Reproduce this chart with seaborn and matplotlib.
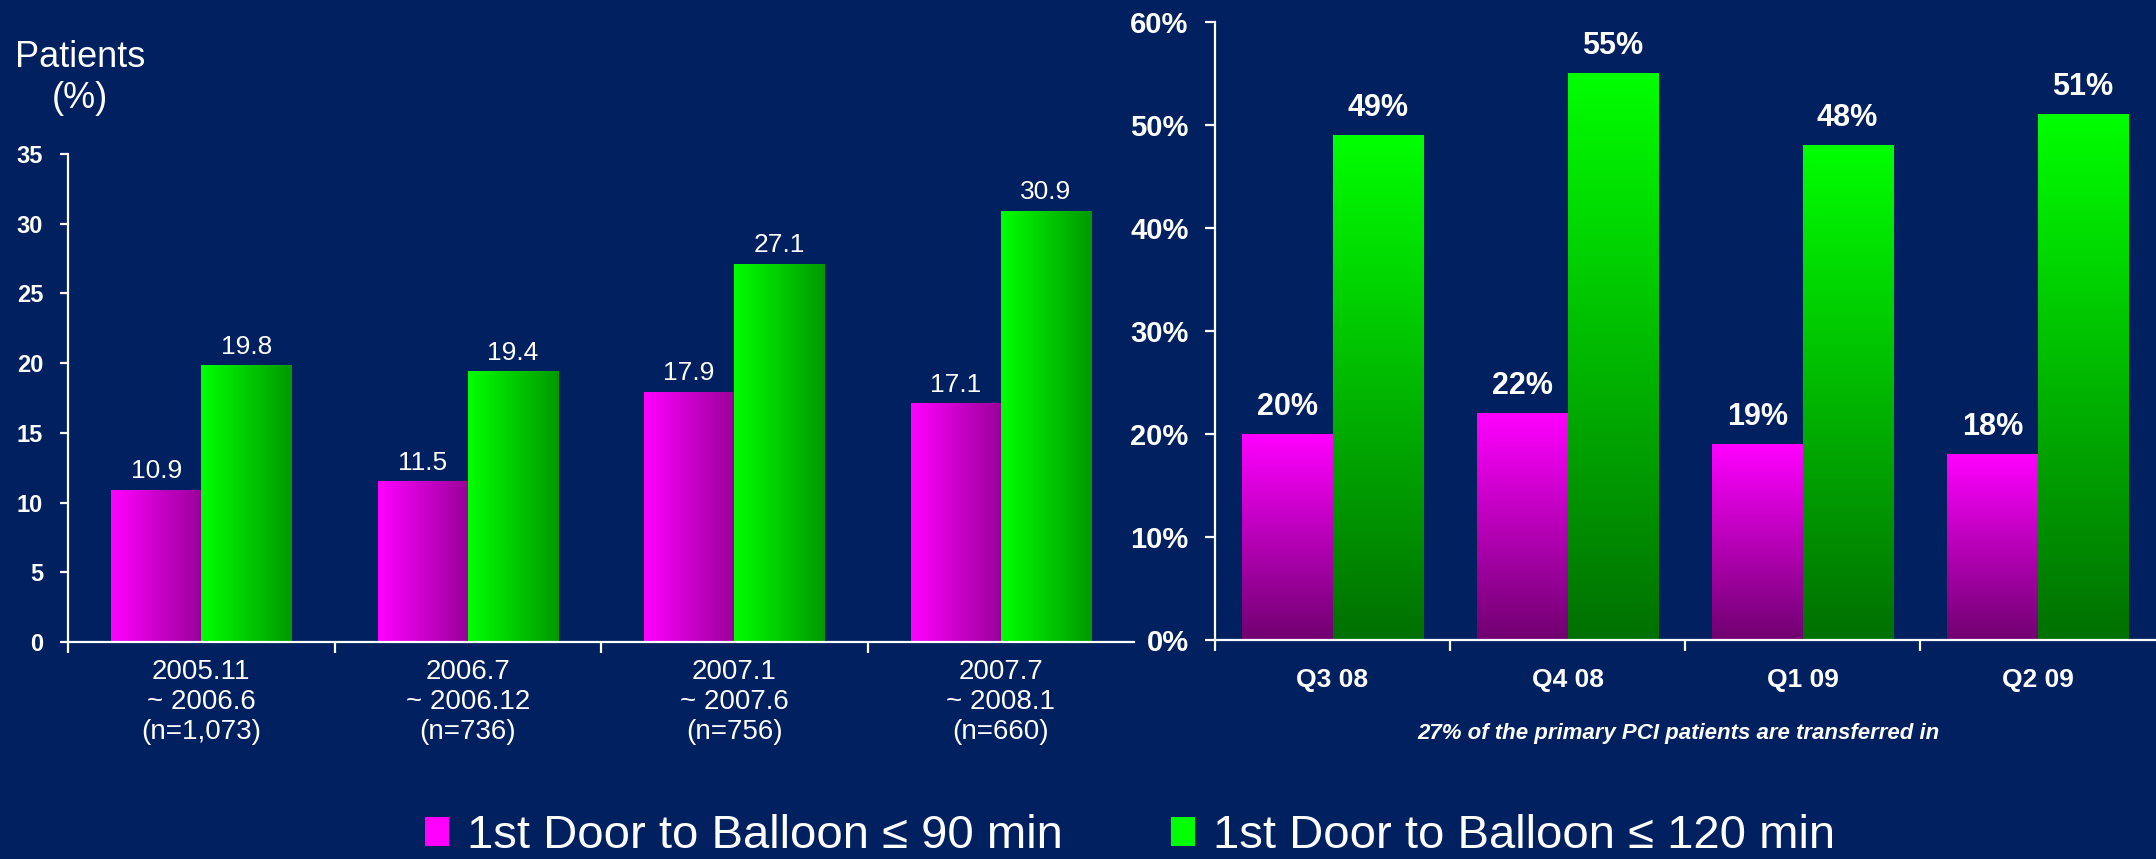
import numpy as np
import pandas as pd
import matplotlib
matplotlib.use("Agg")
import matplotlib.pyplot as plt
import seaborn as sns
from matplotlib.patches import Patch
from matplotlib.ticker import FixedLocator, FuncFormatter

# ---------------- data ----------------
left_categories = ["2005.11\n~ 2006.6\n(n=1,073)", "2006.7\n~ 2006.12\n(n=736)",
                   "2007.1\n~ 2007.6\n(n=756)", "2007.7\n~ 2008.1\n(n=660)"]
left_le90 = [10.9, 11.5, 17.9, 17.1]
left_le120 = [19.8, 19.4, 27.1, 30.9]
left_yticks = [0, 5, 10, 15, 20, 25, 30, 35]

right_categories = ["Q3 08", "Q4 08", "Q1 09", "Q2 09"]
right_le90 = [20, 22, 19, 18]
right_le120 = [49, 55, 48, 51]
right_yticks = [0, 10, 20, 30, 40, 50, 60]

series_names = ["1st Door to Balloon \u2264 90 min", "1st Door to Balloon \u2264 120 min"]
y_title = "Patients\n(%)"
subtitle = "27% of the primary PCI patients are transferred in"

# ---------------- style ----------------
BG = "#00205F"
MAGENTA = "#FF00FF"
GREEN = "#00FF00"
FONT = ["Liberation Sans", "DejaVu Sans"]

sns.set_theme(style="white")
plt.rcParams["font.family"] = FONT
plt.rcParams["text.color"] = "white"
plt.rcParams["axes.edgecolor"] = "white"

fig = plt.figure(figsize=(21.56, 8.59), dpi=100, facecolor=BG)

ax_l = fig.add_axes([68 / 2156, (859 - 642) / 859, (1134 - 68) / 2156, (642 - 154) / 859])
ax_r = fig.add_axes([1215 / 2156, (859 - 640) / 859, (2155 - 1215) / 2156, (640 - 22) / 859])


def make_df(cats, a, b):
    return pd.DataFrame({
        "cat": cats * 2,
        "val": list(a) + list(b),
        "series": [series_names[0]] * len(cats) + [series_names[1]] * len(cats),
    })


df_l = make_df(left_categories, left_le90, left_le120)
df_r = make_df(right_categories, right_le90, right_le120)

pal = {series_names[0]: MAGENTA, series_names[1]: GREEN}

sns.barplot(data=df_l, x="cat", y="val", hue="series", palette=pal, width=0.677,
            gap=0, saturation=1, linewidth=0, legend=False, errorbar=None, ax=ax_l)
sns.barplot(data=df_r, x="cat", y="val", hue="series", palette=pal, width=0.766,
            gap=0, saturation=1, linewidth=0, legend=False, errorbar=None, ax=ax_r)


def gradient_fill(ax, direction, dark_factor):
    xl, yl = ax.get_xlim(), ax.get_ylim()
    t = np.linspace(0, 1, 256)
    for patch in list(ax.patches):
        x0, y0 = patch.get_x(), patch.get_y()
        w, h = patch.get_width(), patch.get_height()
        fc = np.array(patch.get_facecolor()[:3])
        dark = fc * dark_factor
        cols = fc[None, :] * (1 - t[:, None]) + dark[None, :] * t[:, None]
        if direction == "h":
            img = cols[None, :, :]
        else:
            img = cols[:, None, :]
        ax.imshow(img, extent=[x0, x0 + w, y0, y0 + h], aspect="auto",
                  origin="upper", interpolation="bilinear",
                  zorder=patch.get_zorder() + 0.1)
    ax.set_xlim(xl)
    ax.set_ylim(yl)


def style_axes(ax, ylim, yticks, yfmt, ytick_size, ytick_weight, xtick_size,
               xtick_weight, xpad, ytick_len):
    ax.set_facecolor("none")
    ax.set_xlim(-0.5, 3.5)
    ax.set_ylim(*ylim)
    for s in ["top", "right"]:
        ax.spines[s].set_visible(False)
    for s in ["left", "bottom"]:
        ax.spines[s].set_color("white")
        ax.spines[s].set_linewidth(1.6)
    ax.set_xlabel("")
    ax.set_ylabel("")
    ax.set_yticks(yticks)
    ax.yaxis.set_major_formatter(FuncFormatter(yfmt))
    ax.tick_params(axis="y", which="major", length=ytick_len, width=1.6,
                   color="white", direction="out", pad=12,
                   labelsize=ytick_size, labelcolor="white", left=True)
    for lab in ax.get_yticklabels():
        lab.set_fontweight(ytick_weight)
    ax.xaxis.set_minor_locator(FixedLocator([-0.5, 0.5, 1.5, 2.5]))
    ax.tick_params(axis="x", which="minor", length=8, width=1.6, color="white",
                   direction="out", bottom=True)
    ax.tick_params(axis="x", which="major", length=0, pad=xpad,
                   labelsize=xtick_size, labelcolor="white")
    for lab in ax.get_xticklabels():
        lab.set_fontweight(xtick_weight)


style_axes(ax_l, (0, 35), left_yticks, lambda v, p: f"{v:.0f}", 17, "bold",
           20, "normal", 12, 6)
style_axes(ax_r, (0, 60), right_yticks, lambda v, p: f"{v:.0f}%", 21, "bold",
           19, "bold", 20, 7)

gradient_fill(ax_l, "h", 0.6)
gradient_fill(ax_r, "v", 0.44)

for lab in ax_l.get_xticklabels():
    lab.set_linespacing(1.22)

# value labels
for cont in ax_l.containers:
    ax_l.bar_label(cont, labels=[f"{v:.1f}" for v in cont.datavalues], padding=5,
                   color="white", fontsize=19)
for cont in ax_r.containers:
    ax_r.bar_label(cont, labels=[f"{v:.0f}%" for v in cont.datavalues], padding=9,
                   color="white", fontsize=22, fontweight="bold")

# titles / notes
fig.text(80 / 2156, 1 - 78 / 859, y_title, ha="center", va="center",
         fontsize=26, color="white", linespacing=1.2)
fig.text(1678 / 2156, 1 - 733 / 859, subtitle, ha="center", va="center",
         fontsize=16, fontweight="bold", fontstyle="italic", color="white")

# legend
handles = [Patch(facecolor=MAGENTA, edgecolor="none", label=series_names[0]),
           Patch(facecolor=GREEN, edgecolor="none", label=series_names[1])]
leg = fig.legend(handles=handles, loc="center left",
                 bbox_to_anchor=(425 / 2156, 1 - 836 / 859), ncol=2, frameon=False,
                 fontsize=34, handlelength=0.5, handleheight=0.55,
                 handletextpad=0.38, columnspacing=2.3, borderpad=0,
                 borderaxespad=0)
for txt in leg.get_texts():
    txt.set_color("white")

fig.savefig("out.png", dpi=100, facecolor=BG)
